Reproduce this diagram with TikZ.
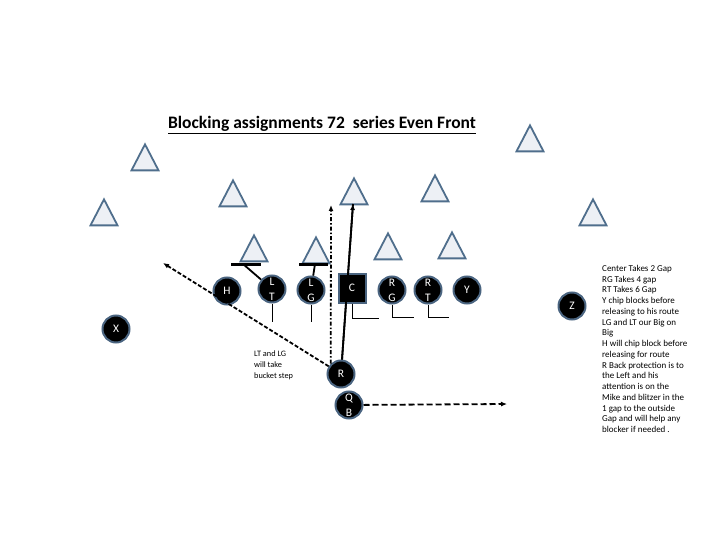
\documentclass[tikz,border=0pt]{standalone}
\usepackage{fontspec}
\setmainfont{Carlito}
\usetikzlibrary{arrows.meta,shapes.geometric}
\definecolor{trifill}{HTML}{EDF0F5}
\definecolor{edgeblue}{HTML}{4F6E8C}
\definecolor{ringblue}{HTML}{4A6480}
\tikzset{
  defender/.style={isosceles triangle, isosceles triangle stretches, shape border rotate=90,
    minimum width=27pt, minimum height=26pt, inner sep=0pt, draw=edgeblue, fill=trifill,
    line width=1.8pt, anchor=apex},
  player/.style={circle, fill=black, draw=ringblue, line width=2pt, minimum size=27pt,
    inner sep=0pt, text=white, font=\fontsize{11.5}{15}\selectfont, align=center},
  center/.style={rectangle, fill=black, draw=ringblue, line width=2pt, minimum width=27pt,
    minimum height=29pt, inner sep=0pt, text=white, font=\fontsize{11.5}{15}\selectfont},
  block/.style={line width=1.8pt},
  bar/.style={line width=3pt},
  thin/.style={line width=1pt},
  tip/.style={-{Latex[length=6pt,width=5pt]}},
  note/.style={align=left, anchor=north west, inner sep=0pt}
}
\begin{document}
\begin{tikzpicture}[x=1pt,y=-1pt]
\useasboundingbox (0,0) rectangle (720,540);
% title
\node (title) at (322,125) {\fontsize{17.5}{20}\selectfont\bfseries\underline{Blocking assignments 72\ \ series Even Front}};
% defenders
\node[defender] (d1) at (145,142) {};
\node[defender] (d2) at (104,197) {};
\node[defender] (d3) at (233,178) {};
\node[defender] (d4) at (530,123) {};
\node[defender] (d5) at (435,173) {};
\node[defender] (d6) at (593,197) {};
\node[defender] (d7) at (452,230) {};
\node[defender] (d8) at (388,231) {};
\node[defender] (d9) at (354,176) {};
\node[defender] (d10) at (316,235) {};
\node[defender] (d11) at (254,233) {};
% coordinates
\coordinate (ltbL) at (231,264);
\coordinate (ltbR) at (261,264);
\coordinate (ltb) at (243,264);
\coordinate (lgbL) at (299,264);
\coordinate (lgbR) at (328,264);
\coordinate (lgb) at (315,264);
\coordinate (ltend) at (272,322);
\coordinate (lgend) at (311,322);
\coordinate (rup) at (353,204);
\coordinate (rdd) at (331,205);
\coordinate (rleft) at (163,263);
\coordinate (qbend) at (507,404);
% offense
\node[player] (h) at (227,291) {H};
\node[player] (lt) at (272,289) {L\\T};
\node[player] (lg) at (311,290) {L\\G};
\node[player] (rg) at (392,290) {R\\G};
\node[player] (rt) at (428,290) {R\\T};
\node[player] (y) at (467,290) {Y};
\node[player] (z) at (572,306) {Z};
\node[player] (x) at (116,329) {X};
\node[player] (r) at (341,374) {R};
\node[player] (qb) at (349,405) {Q\\B};
% R solid arrow up (drawn under the center)
\draw[block,tip] (r) -- (rup);
\node[center] (c) at (352,288) {C};
\draw[block] (r) -- (rup);
% blocking
\draw[bar] (ltbL) -- (ltbR);
\draw[bar] (lgbL) -- (lgbR);
\draw[block] (lt) -- (ltb);
\draw[block] (lg) -- (lgb);
\draw[thin] (lt.south) -- (ltend);
\draw[thin] (lg.south) -- (lgend);
\draw[thin] (c.south) -- ++(0,15) -- ++(27,0);
\draw[thin] (rg.south) -- ++(0,13) -- ++(22,0);
\draw[thin] (rt.south) -- ++(0,13) -- ++(21,0);
% routes
\draw[line width=1.8pt, dash pattern=on 4pt off 2pt on 1.5pt off 2pt, tip] (r.north west) -- (rdd);
\draw[line width=1.8pt, dash pattern=on 4pt off 2pt, tip] (r) -- (rleft);
\draw[line width=1.8pt, dash pattern=on 6pt off 3pt, tip] (qb) -- (qbend);
% notes
\node[note, font=\fontsize{8.3}{11}\selectfont] (n1) at (254,351) {LT and LG\\will take\\bucket step};
\node[note, font=\fontsize{9}{10.75}\selectfont] (n2) at (602,265) {Center Takes 2 Gap\\RG Takes 4 gap\\RT Takes 6 Gap\\Y chip blocks before\\releasing to his route\\LG and LT our Big on\\Big\\H will chip block before\\releasing for route\\R Back protection is to\\the Left and his\\attention is on the\\Mike and blitzer in the\\1 gap to the outside\\Gap and will help any\\blocker if needed .};
\end{tikzpicture}
\end{document}
